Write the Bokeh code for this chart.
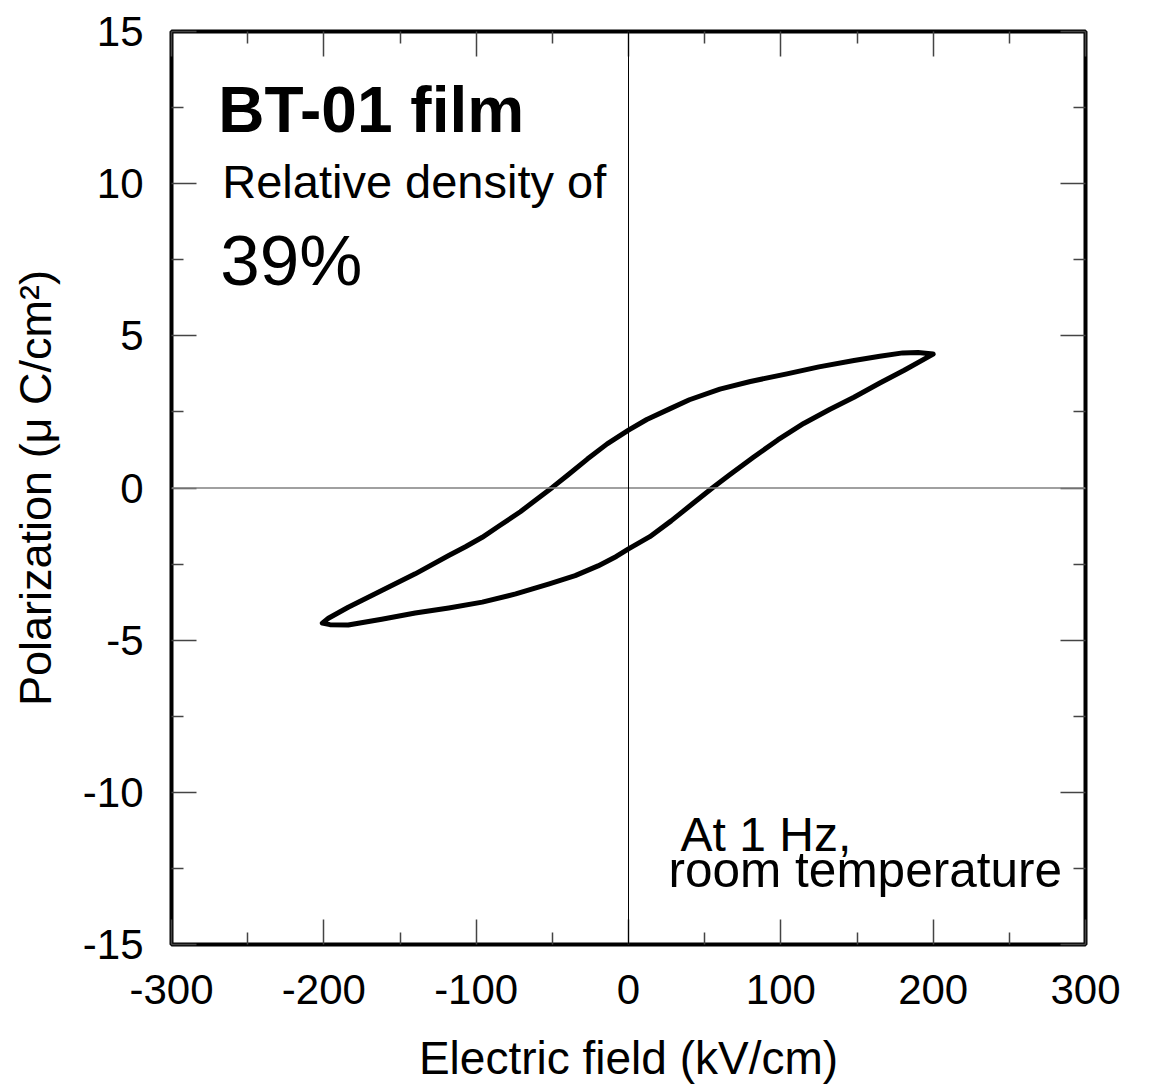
from bokeh.plotting import figure
from bokeh.models import LinearAxis, Range1d, Span, Label, FixedTicker
from bokeh.embed import file_html
from bokeh.resources import INLINE

# Upper branch (from positive tip back to negative tip)
upper_x = [200, 190, 180, 165, 148, 125, 104, 80, 60, 40, 27, 12, 0, -14, -27, -40, -50,
           -60, -71, -85, -96, -107, -118, -140, -162, -184, -197, -201]
upper_y = [4.40, 4.45, 4.44, 4.33, 4.19, 3.98, 3.75, 3.50, 3.25, 2.90, 2.60, 2.25, 1.90,
           1.45, 0.95, 0.42, 0.02, -0.36, -0.78, -1.25, -1.62, -1.93, -2.22, -2.82, -3.37,
           -3.92, -4.28, -4.44]
# Lower branch (from negative tip to positive tip)
lower_x = [-201, -196, -184, -162, -140, -118, -96, -74, -52, -35, -20, -8, 0, 14, 28, 42,
           55, 66, 82, 98, 115, 132, 148, 165, 181, 200]
lower_y = [-4.44, -4.49, -4.50, -4.31, -4.11, -3.94, -3.75, -3.48, -3.15, -2.88, -2.56,
           -2.25, -2.00, -1.60, -1.08, -0.52, 0.00, 0.42, 1.01, 1.58, 2.12, 2.58, 2.98,
           3.45, 3.87, 4.40]

x_ticks = [-300, -200, -100, 0, 100, 200, 300]
x_minor = [-250, -150, -50, 50, 150, 250]
y_ticks = [-15, -10, -5, 0, 5, 10, 15]
y_minor = [-12.5, -7.5, -2.5, 2.5, 7.5, 12.5]

FONT = "Liberation Sans"

p = figure(width=1163, height=1091, output_backend="svg", toolbar_location=None,
           x_range=Range1d(-300, 300), y_range=Range1d(-15, 15),
           min_border_left=171, min_border_right=78, min_border_top=31, min_border_bottom=147)
p.grid.visible = False
p.outline_line_color = "black"
p.outline_line_width = 4
p.background_fill_color = "white"
p.border_fill_color = "white"

loop_x = upper_x + lower_x
loop_y = upper_y + lower_y

p.add_layout(Span(location=0, dimension="width", line_color="#808080", line_width=1.5))
p.add_layout(Span(location=0, dimension="height", line_color="black", line_width=1))

p.line(loop_x, loop_y, line_color="black", line_width=5, line_join="round", line_cap="round")


def style_axis(ax, ticks, minor, show_labels):
    ax.ticker = FixedTicker(ticks=ticks, minor_ticks=minor)
    ax.axis_line_color = None
    ax.major_tick_in = 25
    ax.major_tick_out = 0
    ax.minor_tick_in = 12
    ax.minor_tick_out = 0
    ax.major_tick_line_color = "#444444"
    ax.minor_tick_line_color = "#444444"
    ax.major_tick_line_width = 1.5
    ax.minor_tick_line_width = 1.5
    ax.major_label_text_font = FONT
    ax.major_label_text_font_size = "42px"
    ax.major_label_text_color = "black" if show_labels else None
    ax.axis_label_text_font = FONT
    ax.axis_label_text_font_size = "45px"
    ax.axis_label_text_font_style = "normal"
    ax.axis_label_text_color = "black"


style_axis(p.xaxis[0], x_ticks, x_minor, True)
style_axis(p.yaxis[0], y_ticks, y_minor, True)
p.xaxis[0].major_label_overrides = {t: str(t) for t in x_ticks}
p.yaxis[0].major_label_overrides = {t: str(t) for t in y_ticks}
p.xaxis[0].axis_label = "Electric field (kV/cm)"
p.xaxis[0].axis_label_text_font_size = "46px"
p.yaxis[0].axis_label = "Polarization (\u03bc C/cm\u00b2)"
p.xaxis[0].major_label_standoff = 30
p.xaxis[0].axis_label_standoff = 25
p.yaxis[0].major_label_standoff = 28
p.yaxis[0].axis_label_standoff = 19

ax_top = LinearAxis()
style_axis(ax_top, x_ticks, x_minor, False)
ax_top.major_label_text_font_size = "0px"
ax_top.major_label_standoff = 0
p.add_layout(ax_top, "above")
ax_right = LinearAxis()
style_axis(ax_right, y_ticks, y_minor, False)
ax_right.major_label_text_font_size = "0px"
ax_right.major_label_standoff = 0
p.add_layout(ax_right, "right")

p.add_layout(Label(x=-269.3, y=12.41, text="BT-01 film", text_font=FONT, text_font_size="64px",
                   text_font_style="bold", text_color="black", text_baseline="alphabetic"))
p.add_layout(Label(x=-266.7, y=10.07, text="Relative density of", text_font=FONT,
                   text_font_size="47px", text_color="black", text_baseline="alphabetic"))
p.add_layout(Label(x=-268, y=7.47, text="39%", text_font=FONT, text_font_size="71px",
                   text_color="black", text_baseline="alphabetic"))
p.add_layout(Label(x=34.2, y=-11.39, text="At 1 Hz,", text_font=FONT, text_font_size="48px",
                   text_color="black", text_baseline="alphabetic"))
p.add_layout(Label(x=26.3, y=-12.54, text="room temperature", text_font=FONT,
                   text_font_size="49.5px", text_color="black", text_baseline="alphabetic"))

open("out.html", "w").write(file_html(p, INLINE))
